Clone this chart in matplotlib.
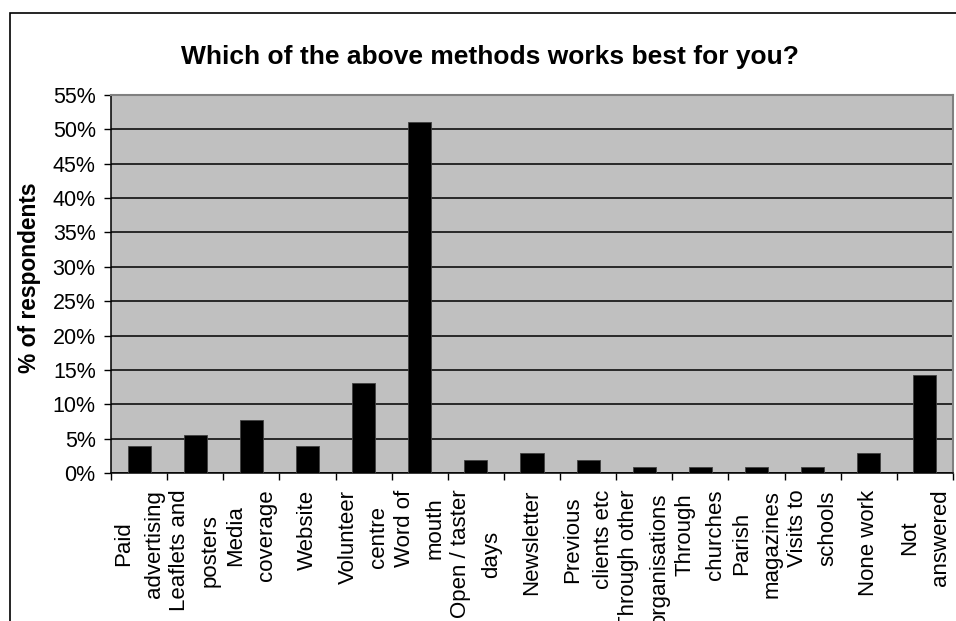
import numpy as np
import matplotlib.pyplot as plt
from matplotlib.patches import Rectangle
from matplotlib.ticker import FuncFormatter

# survey answers, % of respondents
methods = ['Paid\nadvertising', 'Leaflets and\nposters', 'Media\ncoverage', 'Website',
           'Volunteer\ncentre', 'Word of\nmouth', 'Open / taster\ndays', 'Newsletter',
           'Previous\nclients etc', 'Through other\norganisations', 'Through\nchurches',
           'Parish\nmagazines', 'Visits to\nschools', 'None work', 'Not\nanswered']
pct = [3.9, 5.6, 7.7, 3.9, 13.1, 51.0, 1.9, 2.9, 1.9, 0.9, 0.9, 0.9, 0.9, 2.9, 14.3]
yticks = list(range(0, 60, 5))

plt.rcParams['font.family'] = ['Liberation Sans', 'DejaVu Sans']

fig = plt.figure(figsize=(9.56, 6.21), dpi=100)
ax = fig.add_axes([111/956, 1 - 473/621, 842/956, 378/621])

# outer chart frame
fig.patches.append(Rectangle((10/956, -0.1), 1.0, 1 - 13/621 + 0.1, transform=fig.transFigure,
                             fill=False, edgecolor='black', linewidth=1.2))

x = np.arange(len(methods))
ax.set_facecolor('#c0c0c0')
ax.bar(x, pct, width=0.41, color='black', edgecolor='#404040', linewidth=0.6, zorder=3)

ax.set_xlim(-0.5, len(methods) - 0.5)
ax.set_ylim(0, 55)
ax.set_yticks(yticks)
ax.yaxis.set_major_formatter(FuncFormatter(lambda v, p: '%d%%' % v))
ax.yaxis.grid(True, color='black', linewidth=1.1, zorder=1)

# category labels at centres, tick marks at boundaries
ax.set_xticks(x)
ax.set_xticklabels(methods, rotation=90, ha='center', va='top', multialignment='center',
                   linespacing=1.6, fontsize=16)
ax.set_xticks(np.arange(-0.5, len(methods)), minor=True)
ax.tick_params(axis='x', which='major', length=0, pad=12)
ax.tick_params(axis='x', which='minor', length=5, width=1, direction='out')
ax.tick_params(axis='y', length=5, width=1, direction='out', labelsize=15.5, pad=6)

for s in ['top', 'right']:
    ax.spines[s].set_color('#808080')
    ax.spines[s].set_linewidth(1.5)
for s in ['left', 'bottom']:
    ax.spines[s].set_color('black')
    ax.spines[s].set_linewidth(1.1)

fig.text(490/956, 1 - 57/621, 'Which of the above methods works best for you?',
         ha='center', va='center', fontsize=19, fontweight='bold')
fig.text(30/956, 1 - 278/621, '% of respondents', rotation=90,
         ha='center', va='center', fontsize=16.4, fontweight='bold')

plt.savefig('out.png', dpi=100)
